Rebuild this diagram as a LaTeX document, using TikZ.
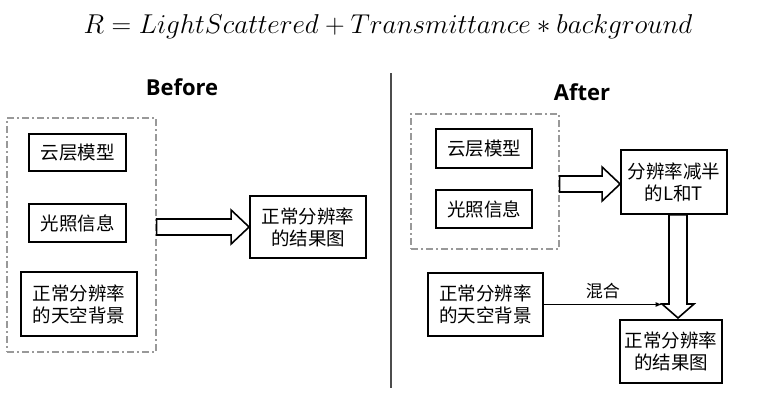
\documentclass[tikz,border=0pt]{standalone}
\usepackage{fontspec}
\newfontfamily\cjk{Noto Sans CJK SC}
\newfontfamily\titlefont{Open Sans}
\usetikzlibrary{arrows}
\usetikzlibrary{calc}

% hollow block arrow, horizontal: start point, tip
\newcommand{\harrow}[2]{\draw[hollowStyle] ($(#1)+(0,-8)$) -- ($(#2)+(-18,-8)$) -- ($(#2)+(-18,-17)$) -- (#2) -- ($(#2)+(-18,17)$) -- ($(#2)+(-18,8)$) -- ($(#1)+(0,8)$) -- cycle;}
% hollow block arrow, downwards: start point, tip
\newcommand{\varrow}[2]{\draw[hollowStyle] ($(#1)+(-9,0)$) -- ($(#2)+(-9,-14)$) -- ($(#2)+(-16,-14)$) -- (#2) -- ($(#2)+(16,-14)$) -- ($(#2)+(9,-14)$) -- ($(#1)+(9,0)$) -- cycle;}

\begin{document}
\begin{tikzpicture}[x = 1pt, y = -1pt]
	\tikzstyle{boxStyle} = [draw, line width = 1.8pt, align = center, inner sep = 0pt, font = \cjk\fontsize{18.5}{22}\selectfont]
	\tikzstyle{groupStyle} = [draw = black!40, line width = 1.3pt, dash pattern = on 7pt off 3pt on 2pt off 3pt, inner sep = 0pt]
	\tikzstyle{hollowStyle} = [draw, line width = 1.6pt, fill = white, line join = miter]
	\tikzstyle{titleStyle} = [font = \titlefont\bfseries\fontsize{22}{26}\selectfont]
	\useasboundingbox (0,0) rectangle (768,410);
	\node[scale = 1.095] (formula) at (388,27) {\fontsize{24.88}{30}\selectfont $R = LightScattered + Transmittance * background$};
	\coordinate (divTop) at (391,73);
	\coordinate (divBot) at (391,388);
	\draw[line width = 1.5pt, black!70] (divTop) -- (divBot);
	% Before
	\node[titleStyle] (before) at (182,87) {Before};
	\node[groupStyle, minimum width = 149, minimum height = 234] (grpA) at (81.5,235) {};
	\node[boxStyle, minimum width = 97, minimum height = 37] (cloudA) at (77.5,152.5) {云层模型};
	\node[boxStyle, minimum width = 97, minimum height = 38] (lightA) at (77.5,223) {光照信息};
	\node[boxStyle, minimum width = 116, minimum height = 64] (skyA) at (79,304) {正常分辨率\\的天空背景};
	\node[boxStyle, minimum width = 116, minimum height = 62] (resultA) at (308,227) {正常分辨率\\的结果图};
	\harrow{grpA.east |- resultA.west}{resultA.west}
	% After
	\node[titleStyle] (after) at (582,92) {After};
	\node[groupStyle, minimum width = 148, minimum height = 135] (grpB) at (485,181.5) {};
	\node[boxStyle, minimum width = 96, minimum height = 39] (cloudB) at (484,148.5) {云层模型};
	\node[boxStyle, minimum width = 96, minimum height = 38] (lightB) at (484,209) {光照信息};
	\node[boxStyle, minimum width = 106, minimum height = 64] (half) at (674,182) {分辨率减半\\的L和T};
	\node[boxStyle, minimum width = 115, minimum height = 63] (skyB) at (485.5,304.5) {正常分辨率\\的天空背景};
	\node[boxStyle, minimum width = 102, minimum height = 63] (resultB) at (671,351.5) {正常分辨率\\的结果图};
	\coordinate (halfIn) at (half.west |- 0,184);
	\coordinate (halfOut) at ($(half.south)+(4,0)$);
	\coordinate (mixTip) at (678,318);
	\coordinate (mixEnd) at (662,304.5);
	\harrow{grpB.east |- halfIn}{halfIn}
	\varrow{halfOut}{mixTip}
	\draw[line width = 1.2pt, -latex] (skyB.east) -- (mixEnd) node[midway, above = 2pt, font = \cjk\fontsize{17}{20}\selectfont] {混合};
\end{tikzpicture}
\end{document}
